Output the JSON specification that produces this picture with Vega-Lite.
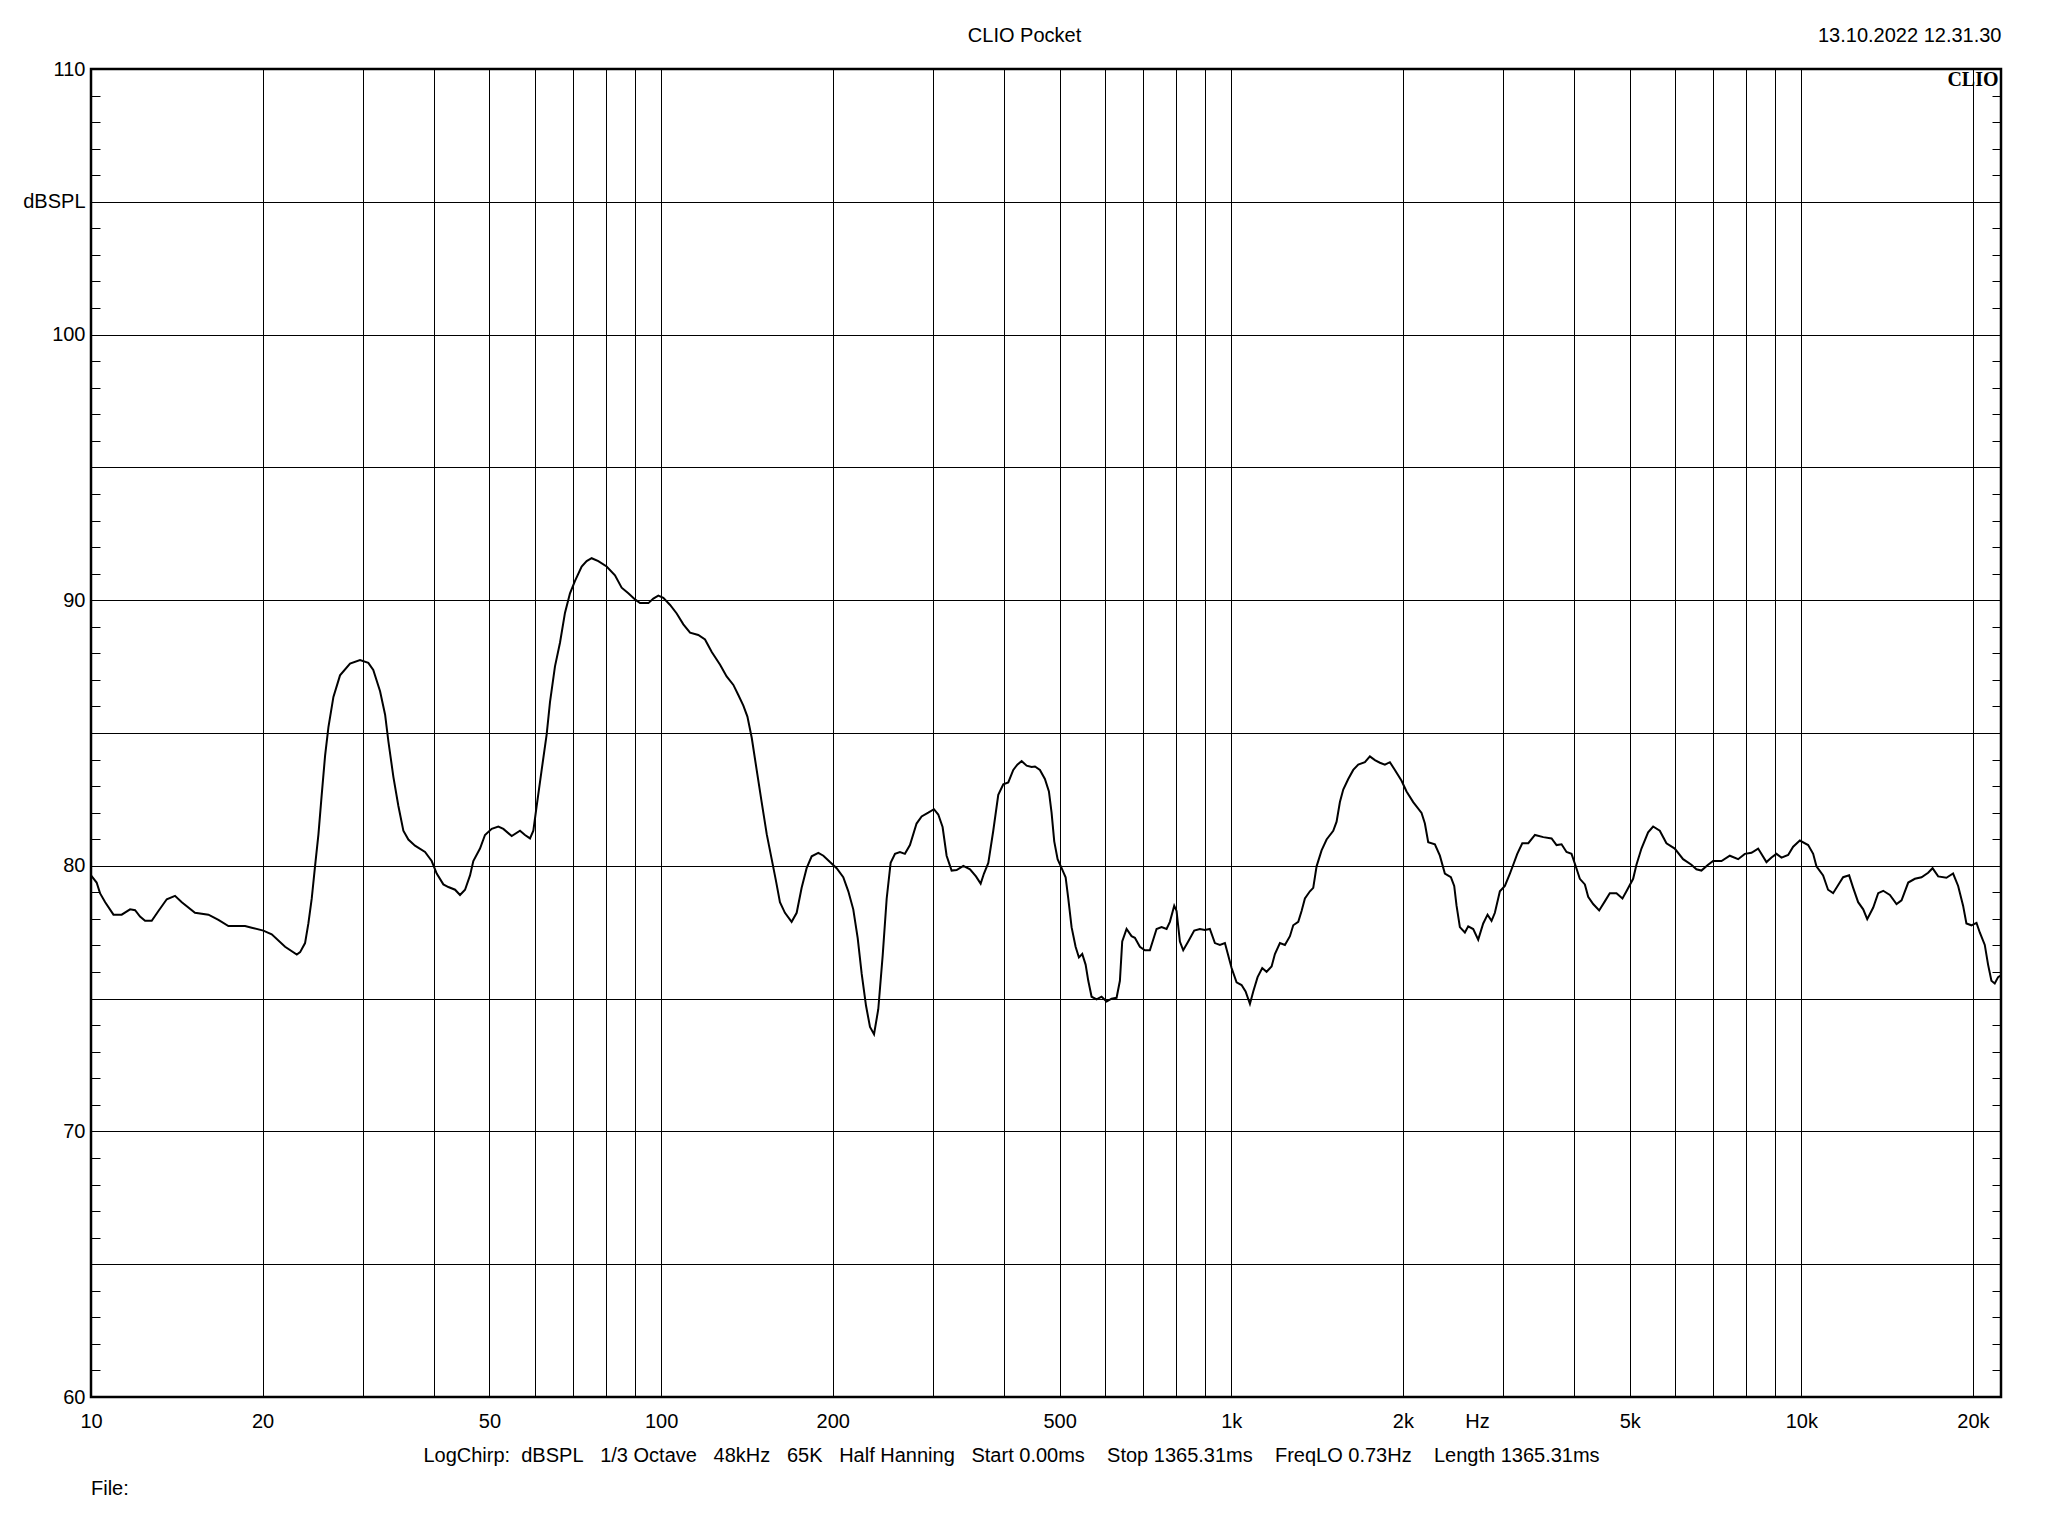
{
  "$schema": "https://vega.github.io/schema/vega-lite/v6.json",
  "width": 1910,
  "height": 1328,
  "autosize": "none",
  "padding": {"left": 91, "top": 69, "right": 47, "bottom": 139},
  "background": "white",
  "config": {
    "view": {"stroke": "black", "strokeWidth": 2.5},
    "font": "Liberation Sans",
    "axis": {
      "labelFont": "Liberation Sans", "labelFontSize": 20, "labelColor": "black",
      "titleFont": "Liberation Sans", "titleFontSize": 20, "titleFontWeight": "normal", "titleColor": "black",
      "gridColor": "black", "gridOpacity": 1, "gridWidth": 1, "tickColor": "black",
      "domain": false, "labelOverlap": false, "labelFlush": false
    }
  },
  "title": {"text": "File:", "orient": "bottom", "anchor": "start", "frame": "group", "fontSize": 20, "fontWeight": "normal", "font": "Liberation Sans", "color": "black", "offset": 24, "baseline": "middle"},
  "resolve": {"axis": {"x": "independent", "y": "independent"}},
  "data": {"values": [
    {"f":10.0,"db":79.64},{"f":10.23,"db":79.37},{"f":10.37,"db":78.97},{"f":10.59,"db":78.63},{"f":10.95,"db":78.16},{"f":11.32,"db":78.16},{"f":11.71,"db":78.36},{"f":11.95,"db":78.33},{"f":12.19,"db":78.09},{"f":12.44,"db":77.93},{"f":12.78,"db":77.93},{"f":13.13,"db":78.3},{"f":13.58,"db":78.74},{"f":14.04,"db":78.87},{"f":14.43,"db":78.63},{"f":15.22,"db":78.23},{"f":16.07,"db":78.16},{"f":16.73,"db":77.96},{"f":17.42,"db":77.73},{"f":18.63,"db":77.73},{"f":19.14,"db":77.67},{"f":20.06,"db":77.56},{"f":20.75,"db":77.42},{"f":21.9,"db":76.95},{"f":22.96,"db":76.66},{"f":23.27,"db":76.75},{"f":23.74,"db":77.09},{"f":24.06,"db":77.83},{"f":24.39,"db":78.77},{"f":24.72,"db":80.0},{"f":25.06,"db":81.19},{"f":25.39,"db":82.67},{"f":25.74,"db":84.15},{"f":26.09,"db":85.22},{"f":26.62,"db":86.36},{"f":27.34,"db":87.17},{"f":28.47,"db":87.61},{"f":29.64,"db":87.75},{"f":30.65,"db":87.64},{"f":31.27,"db":87.37},{"f":32.14,"db":86.57},{"f":32.8,"db":85.69},{"f":33.24,"db":84.68},{"f":33.92,"db":83.34},{"f":34.6,"db":82.26},{"f":35.31,"db":81.32},{"f":36.03,"db":80.99},{"f":37.01,"db":80.76},{"f":38.54,"db":80.52},{"f":39.59,"db":80.18},{"f":40.4,"db":79.71},{"f":41.5,"db":79.3},{"f":42.35,"db":79.2},{"f":43.51,"db":79.1},{"f":44.39,"db":78.9},{"f":45.3,"db":79.1},{"f":46.22,"db":79.64},{"f":46.84,"db":80.18},{"f":48.12,"db":80.65},{"f":49.1,"db":81.16},{"f":50.45,"db":81.39},{"f":51.82,"db":81.48},{"f":52.88,"db":81.39},{"f":54.69,"db":81.12},{"f":56.56,"db":81.32},{"f":57.71,"db":81.16},{"f":58.89,"db":81.03},{"f":59.69,"db":81.32},{"f":60.5,"db":82.26},{"f":61.73,"db":83.61},{"f":62.99,"db":84.95},{"f":63.84,"db":86.16},{"f":65.14,"db":87.51},{"f":66.47,"db":88.4},{"f":67.82,"db":89.52},
    {"f":69.21,"db":90.26},{"f":70.63,"db":90.73},{"f":72.55,"db":91.27},{"f":74.03,"db":91.47},{"f":75.54,"db":91.58},{"f":77.6,"db":91.47},{"f":80.25,"db":91.27},{"f":83.0,"db":90.94},{"f":85.27,"db":90.47},{"f":87.6,"db":90.26},{"f":90.0,"db":90.03},{"f":91.83,"db":89.89},{"f":95.0,"db":89.89},{"f":96.91,"db":90.06},{"f":98.89,"db":90.17},{"f":100.9,"db":90.09},{"f":103.7,"db":89.82},{"f":106.5,"db":89.5},{"f":109.4,"db":89.09},{"f":112.4,"db":88.78},{"f":116.2,"db":88.69},{"f":119.4,"db":88.52},{"f":122.7,"db":88.05},{"f":126.9,"db":87.57},{"f":130.3,"db":87.13},{"f":133.9,"db":86.81},{"f":136.6,"db":86.43},{"f":139.4,"db":86.03},{"f":141.7,"db":85.62},{"f":144.2,"db":84.82},{"f":147.1,"db":83.61},{"f":150.1,"db":82.4},{"f":153.2,"db":81.19},{"f":156.3,"db":80.25},{"f":159.0,"db":79.44},{"f":161.6,"db":78.63},{"f":164.9,"db":78.23},{"f":169.4,"db":77.89},{"f":172.9,"db":78.23},{"f":176.4,"db":79.17},{"f":180.0,"db":79.91},{"f":183.7,"db":80.36},{"f":188.7,"db":80.49},{"f":192.6,"db":80.38},{"f":197.8,"db":80.14},{"f":203.2,"db":79.91},{"f":208.7,"db":79.57},{"f":213.0,"db":79.04},{"f":217.3,"db":78.36},{"f":221.2,"db":77.29},{"f":224.8,"db":75.94},{"f":228.8,"db":74.73},{"f":232.5,"db":73.93},{"f":236.3,"db":73.66},{"f":240.4,"db":74.6},{"f":244.7,"db":76.62},{"f":248.7,"db":78.77},{"f":252.7,"db":80.11},{"f":257.2,"db":80.45},{"f":262.4,"db":80.52},{"f":267.7,"db":80.45},{"f":273.2,"db":80.78},{"f":280.6,"db":81.59},{"f":286.4,"db":81.86},{"f":294.2,"db":82.0},{"f":301.0,"db":82.13},{"f":306.3,"db":81.93},{"f":311.7,"db":81.46},{"f":316.8,"db":80.38},{"f":323.3,"db":79.82},{"f":329.9,"db":79.84},{"f":338.9,"db":80.0},{"f":348.2,"db":79.87},{"f":356.7,"db":79.6},{"f":363.5,"db":79.33},{"f":368.4,"db":79.71},{"f":374.9,"db":80.11},{"f":382.5,"db":81.32},{"f":390.3,"db":82.67},{"f":398.3,"db":83.07},{"f":406.4,"db":83.14},{"f":414.7,"db":83.61},{"f":421.5,"db":83.81},{"f":428.9,"db":83.94},{"f":437.7,"db":83.77},{"f":446.6,"db":83.72},
    {"f":452.7,"db":83.74},{"f":461.8,"db":83.61},{"f":471.2,"db":83.27},{"f":478.9,"db":82.8},{"f":484.1,"db":81.99},{"f":489.3,"db":80.92},{"f":496.0,"db":80.25},{"f":504.1,"db":79.91},{"f":512.3,"db":79.57},{"f":517.8,"db":78.77},{"f":524.8,"db":77.69},{"f":533.4,"db":76.95},{"f":540.6,"db":76.55},{"f":547.9,"db":76.68},{"f":555.4,"db":76.28},{"f":561.4,"db":75.67},{"f":569.0,"db":75.07},{"f":580.6,"db":74.97},{"f":592.4,"db":75.07},{"f":604.5,"db":74.89},{"f":616.8,"db":75.0},{"f":629.4,"db":75.03},{"f":637.9,"db":75.67},{"f":643.9,"db":77.15},{"f":655.3,"db":77.62},{"f":668.6,"db":77.35},{"f":677.7,"db":77.29},{"f":691.5,"db":76.95},{"f":705.6,"db":76.82},{"f":720.0,"db":76.82},{"f":739.7,"db":77.62},{"f":754.8,"db":77.69},{"f":770.2,"db":77.62},{"f":780.6,"db":77.89},{"f":794.4,"db":78.5},{"f":801.9,"db":78.3},{"f":812.8,"db":77.15},{"f":823.8,"db":76.82},{"f":840.6,"db":77.15},{"f":861.2,"db":77.56},{"f":881.1,"db":77.62},{"f":899.1,"db":77.58},{"f":917.4,"db":77.62},{"f":936.2,"db":77.09},{"f":955.3,"db":77.02},{"f":974.9,"db":77.09},{"f":988.1,"db":76.62},{"f":1001.5,"db":76.15},{"f":1021.9,"db":75.61},{"f":1042.7,"db":75.51},{"f":1059.8,"db":75.27},{"f":1078.5,"db":74.8},{"f":1093.1,"db":75.27},{"f":1112.4,"db":75.81},{"f":1133.5,"db":76.15},{"f":1153.5,"db":76.01},{"f":1177.1,"db":76.21},{"f":1193.0,"db":76.68},{"f":1217.4,"db":77.09},{"f":1242.2,"db":77.02},{"f":1267.6,"db":77.35},{"f":1284.7,"db":77.76},{"f":1310.9,"db":77.89},{"f":1328.7,"db":78.3},{"f":1346.7,"db":78.77},{"f":1374.2,"db":79.04},{"f":1392.8,"db":79.17},{"f":1411.7,"db":79.98},{"f":1440.5,"db":80.58},{"f":1469.9,"db":80.99},{"f":1510.0,"db":81.32},{"f":1530.5,"db":81.66},{"f":1551.2,"db":82.4},{"f":1572.2,"db":82.87},{"f":1604.3,"db":83.27},{"f":1637.0,"db":83.61},{"f":1670.4,"db":83.81},{"f":1715.9,"db":83.9},{"f":1750.9,"db":84.12},{"f":1786.6,"db":83.98},{"f":1823.1,"db":83.88},{"f":1860.3,"db":83.81},{"f":1898.2,"db":83.9},{"f":1936.9,"db":83.61},{"f":1989.7,"db":83.2},{"f":2030.3,"db":82.8},{"f":2085.6,"db":82.4},{"f":2157.1,"db":81.99},{"f":2186.3,"db":81.59},{"f":2215.9,"db":80.89},{"f":2276.4,"db":80.81},{"f":2322.8,"db":80.38},{"f":2370.1,"db":79.71},{"f":2428.3,"db":79.57},{"f":2461.2,"db":79.24},{"f":2484.5,"db":78.5},{"f":2518.2,"db":77.69},{"f":2569.6,"db":77.49},{"f":2604.4,"db":77.72},{"f":2657.5,"db":77.62},{"f":2711.7,"db":77.22},{"f":2767.0,"db":77.83},{"f":2816.0,"db":78.16},{"f":2861.8,"db":77.93},{"f":2900.5,"db":78.23},{"f":2959.7,"db":79.04},{"f":3020.0,"db":79.24},
    {"f":3082,"db":79.71},{"f":3124,"db":80.04},{"f":3175,"db":80.45},{"f":3240,"db":80.85},{"f":3320,"db":80.85},{"f":3410,"db":81.16},{"f":3527,"db":81.08},{"f":3647,"db":81.03},{"f":3721,"db":80.78},{"f":3797,"db":80.81},{"f":3874,"db":80.52},{"f":3953,"db":80.45},{"f":4018,"db":80.0},{"f":4088,"db":79.51},{"f":4172,"db":79.3},{"f":4228,"db":78.83},{"f":4314,"db":78.56},{"f":4420,"db":78.32},{"f":4522,"db":78.66},{"f":4614,"db":78.97},{"f":4740,"db":78.97},{"f":4856,"db":78.77},{"f":4935,"db":79.04},{"f":5070,"db":79.51},{"f":5138,"db":80.04},{"f":5243,"db":80.65},{"f":5386,"db":81.26},{"f":5496,"db":81.48},{"f":5646,"db":81.32},{"f":5800,"db":80.85},{"f":5998,"db":80.65},{"f":6203,"db":80.25},{"f":6415,"db":80.04},{"f":6546,"db":79.87},{"f":6680,"db":79.82},{"f":6862,"db":80.04},{"f":7002,"db":80.18},{"f":7244,"db":80.18},{"f":7492,"db":80.38},{"f":7748,"db":80.25},{"f":7960,"db":80.45},{"f":8177,"db":80.49},{"f":8400,"db":80.65},{"f":8687,"db":80.14},{"f":8865,"db":80.31},{"f":9045,"db":80.45},{"f":9230,"db":80.31},{"f":9482,"db":80.41},{"f":9676,"db":80.72},{"f":9940,"db":80.95},{"f":10280,"db":80.78},{"f":10490,"db":80.45},{"f":10630,"db":79.98},{"f":10920,"db":79.64},{"f":11140,"db":79.1},{"f":11370,"db":78.97},{"f":11680,"db":79.37},{"f":11840,"db":79.57},{"f":12130,"db":79.64},{"f":12330,"db":79.17},{"f":12580,"db":78.63},{"f":12840,"db":78.36},{"f":13050,"db":77.99},{"f":13370,"db":78.43},{"f":13640,"db":78.97},{"f":13920,"db":79.06},{"f":14300,"db":78.9},{"f":14690,"db":78.56},{"f":14990,"db":78.7},{"f":15400,"db":79.37},{"f":15820,"db":79.51},{"f":16250,"db":79.57},{"f":16690,"db":79.74},{"f":16990,"db":79.91},{"f":17380,"db":79.6},{"f":17970,"db":79.55},{"f":18460,"db":79.71},{"f":18840,"db":79.24},{"f":19220,"db":78.5},{"f":19480,"db":77.83},{"f":19880,"db":77.76},{"f":20290,"db":77.85},{"f":20560,"db":77.49},{"f":20980,"db":77.02},{"f":21260,"db":76.28},{"f":21550,"db":75.67},{"f":21840,"db":75.57},{"f":22140,"db":75.81},{"f":22400,"db":75.88}
  ]},
  "layer": [
    {
      "mark": {"type": "line", "color": "black", "strokeWidth": 2, "clip": true},
      "encoding": {
        "x": {"field": "f", "type": "quantitative",
          "scale": {"type": "log", "domain": [10, 22400], "nice": false},
          "axis": {"orient": "bottom",
            "values": [10,20,30,40,50,60,70,80,90,100,200,300,400,500,600,700,800,900,1000,2000,3000,4000,5000,6000,7000,8000,9000,10000,20000],
            "grid": true, "ticks": false, "labelPadding": 14,
            "labelExpr": "indexof([10,20,50,100,200,500,1000,2000,5000,10000,20000], datum.value) >= 0 ? (datum.value >= 1000 ? (datum.value / 1000) + 'k' : '' + datum.value) : ''",
            "title": "Hz", "titleX": 1386, "titleY": 24, "titleBaseline": "middle", "titleAlign": "center"}},
        "y": {"field": "db", "type": "quantitative",
          "scale": {"domain": [60, 110], "nice": false, "zero": false},
          "axis": {"orient": "left",
            "values": [60,61,62,63,64,65,66,67,68,69,70,71,72,73,74,75,76,77,78,79,80,81,82,83,84,85,86,87,88,89,90,91,92,93,94,95,96,97,98,99,100,101,102,103,104,105,106,107,108,109,110],
            "grid": true,
            "gridOpacity": {"condition": {"test": "datum.value % 5 === 0", "value": 1}, "value": 0},
            "ticks": true, "tickSize": -9, "tickWidth": 1, "labelPadding": 15,
            "labelExpr": "datum.value === 105 ? 'dBSPL' : (datum.value % 10 === 0 ? '' + datum.value : '')",
            "title": null}}
      }
    },
    {
      "mark": {"type": "line", "opacity": 0},
      "encoding": {
        "x": {"field": "f", "type": "quantitative",
          "scale": {"type": "log", "domain": [10, 22400], "nice": false},
          "axis": {"orient": "top", "labels": false, "ticks": false, "grid": false, "domain": false,
            "title": "CLIO Pocket", "titleX": 933, "titleY": -34, "titleBaseline": "middle", "titleAlign": "center"}},
        "y": {"field": "db", "type": "quantitative",
          "scale": {"domain": [60, 110], "nice": false, "zero": false},
          "axis": {"orient": "right",
            "values": [60,61,62,63,64,65,66,67,68,69,70,71,72,73,74,75,76,77,78,79,80,81,82,83,84,85,86,87,88,89,90,91,92,93,94,95,96,97,98,99,100,101,102,103,104,105,106,107,108,109,110],
            "labels": false, "grid": false, "ticks": true, "tickSize": -9, "tickWidth": 1,
            "title": "CLIO", "titleAngle": 0, "titleX": -3, "titleY": 10, "titleAlign": "right", "titleBaseline": "middle",
            "titleFont": "Liberation Serif", "titleFontWeight": "bold", "titleFontSize": 20}}
      }
    },
    {
      "mark": {"type": "line", "opacity": 0},
      "encoding": {
        "x": {"field": "f", "type": "quantitative",
          "scale": {"type": "log", "domain": [10, 22400], "nice": false},
          "axis": {"orient": "bottom", "labels": false, "ticks": false, "grid": false, "domain": false,
            "title": "LogChirp:\u00a0\u00a0dBSPL\u00a0\u00a0\u00a01/3 Octave\u00a0\u00a0\u00a048kHz\u00a0\u00a0\u00a065K\u00a0\u00a0\u00a0Half Hanning\u00a0\u00a0\u00a0Start 0.00ms\u00a0\u00a0\u00a0\u00a0Stop 1365.31ms\u00a0\u00a0\u00a0\u00a0FreqLO 0.73Hz\u00a0\u00a0\u00a0\u00a0Length 1365.31ms",
            "titleX": 920, "titleY": 58, "titleBaseline": "middle", "titleAlign": "center"}},
        "y": {"field": "db", "type": "quantitative",
          "scale": {"domain": [60, 110], "nice": false, "zero": false},
          "axis": {"orient": "left", "labels": false, "ticks": false, "grid": false, "domain": false,
            "title": "13.10.2022 12.31.30", "titleAngle": 0, "titleX": 1910, "titleY": -34, "titleAlign": "right", "titleBaseline": "middle"}}
      }
    }
  ]
}
